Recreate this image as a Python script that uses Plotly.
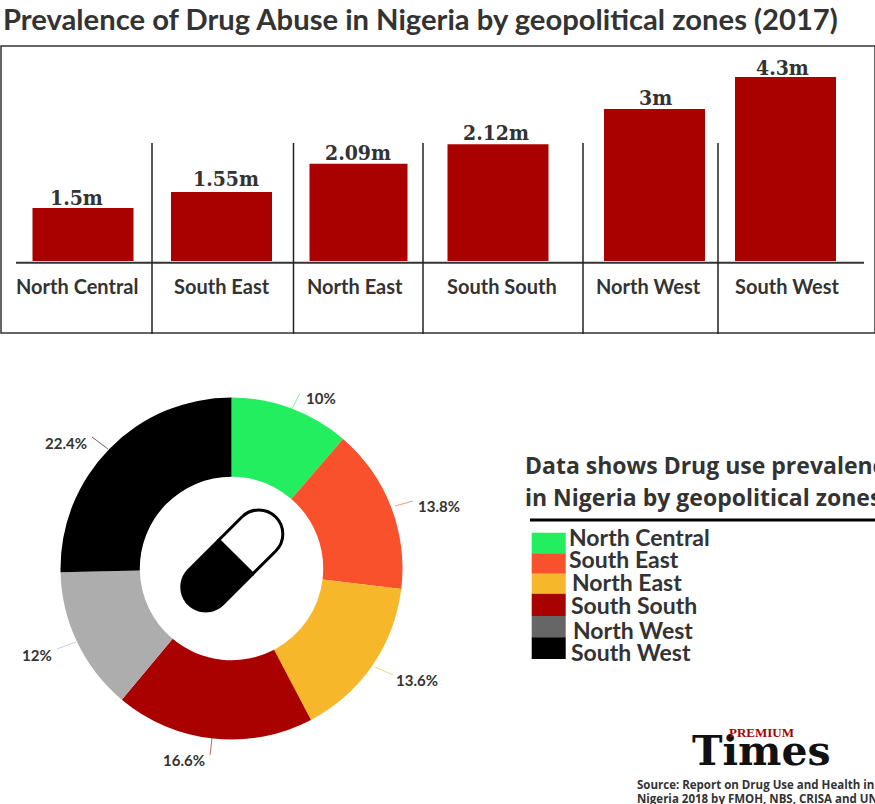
import plotly.graph_objects as go

# ---- data ----
zones = ["North Central", "South East", "North East", "South South", "North West", "South West"]
bar_labels = ["1.5m", "1.55m", "2.09m", "2.12m", "3m", "4.3m"]
# The reference's bars are not drawn to scale with their printed labels,
# so these are the drawn heights (scaled so 4.3m = 4.3).
bar_heights = [1.24, 1.61, 2.27, 2.73, 3.55, 4.3]
bar_slots = [83, 221.5, 358.5, 498, 654.5, 785.5]
bar_widths = [101, 101, 98, 101, 101, 101]
share_values = [10, 13.8, 13.6, 16.6, 12, 22.4]
share_labels = ["10%", "13.8%", "13.6%", "16.6%", "12%", "22.4%"]
pie_colors = ["#22EE5F", "#F9512B", "#F6B82A", "#A90000", "#ADADAD", "#000000"]
legend_colors = ["#22EE5F", "#F9512B", "#F6B82A", "#A90000", "#666666", "#000000"]

W, H = 875, 804
INK = "#333333"
SANS = "Lato"


def fx(x):
    return x / W


def fy(y):
    return 1 - y / H


def text(s, x, y, size, color=INK, family=SANS, bold=True, anchor="center"):
    return dict(text=f"<b>{s}</b>" if bold else s, x=fx(x), y=fy(y), xref="paper", yref="paper",
                xanchor=anchor, yanchor="middle", showarrow=False,
                font=dict(family=family, size=size, color=color))


def seg(x0, y0, x1, y1, color=INK, width=1.5, opacity=1):
    return dict(type="line", xref="paper", yref="paper", x0=fx(x0), y0=fy(y0), x1=fx(x1), y1=fy(y1),
                line=dict(color=color, width=width), layer="above", opacity=opacity)


fig = go.Figure()

# bar chart, on an axis that spans the page width
unit = 4.3 / 184
fig.add_trace(go.Bar(x=bar_slots, y=bar_heights, width=bar_widths, marker=dict(color="#A90000", line_width=0),
                     showlegend=False, hoverinfo="skip"))
fig.update_xaxes(domain=[0, 1], range=[0, W], visible=False, fixedrange=True)
fig.update_yaxes(domain=[fy(333), fy(46)], range=[-72 * unit, 215 * unit], visible=False, fixedrange=True)

# doughnut
cx, cy, R = 231.5, 568.5, 171
fig.add_trace(go.Pie(values=share_values, labels=zones, sort=False, direction="clockwise", rotation=0,
                     hole=91.7 / R, textinfo="none", showlegend=False, hoverinfo="skip",
                     marker=dict(colors=pie_colors, line_width=0),
                     domain=dict(x=[fx(cx - R), fx(cx + R)], y=[fy(cy + R), fy(cy - R)])))

ann = [text("Prevalence of Drug Abuse in Nigeria by geopolitical zones (2017)", 1, 19, 29.2, anchor="left")]

# bar value and zone labels
for s, x, y in zip(bar_labels, [76, 226, 357.5, 495.5, 655, 782], [198, 179, 152, 132, 97, 67]):
    ann.append(text(s, x, y, 21, family="DejaVu Serif Condensed"))
for s, x in zip(zones, [76.5, 222, 355, 501.5, 648, 787]):
    ann.append(text(s, x, 286, 20))

# doughnut labels and leaders
label_xy = [(321, 398), (439, 506), (417, 680), (184, 760), (37, 655), (66, 443)]
leaders = [(292, 409, 300, 393), (395, 506, 413, 501), (375, 667, 393, 675),
           (212, 738, 210, 755), (76, 642, 57, 649), (108, 449, 92, 437)]
for s, (x, y) in zip(share_labels, label_xy):
    ann.append(text(s, x, y, 15))

shapes = [dict(type="rect", xref="paper", yref="paper", x0=fx(1), x1=fx(875), y0=fy(333), y1=fy(46),
               line=dict(color=INK, width=1.5), layer="above"),
          seg(16, 262.7, 864, 262.7, width=2)]
for x in [152, 293.5, 423, 583, 718]:
    shapes.append(seg(x, 143, x, 334, color="#222222"))
for (x0, y0, x1, y1), c in zip(leaders, pie_colors):
    shapes.append(seg(x0, y0, x1, y1, color=c, width=1, opacity=0.6))

# legend block
ann.append(text("Data shows Drug use prevalence", 523, 465, 23, family="Open Sans", anchor="left"))
ann.append(text("in Nigeria by geopolitical zones", 523, 497, 23, family="Open Sans", anchor="left"))
shapes.append(seg(530, 520, 875, 520, color="#000000", width=3))
edges = [532.7, 553.3, 573.7, 593.7, 616, 637.3, 659]
for i, c in enumerate(legend_colors):
    shapes.append(dict(type="rect", xref="paper", yref="paper", x0=fx(531.7), x1=fx(565.7),
                       y0=fy(edges[i + 1]), y1=fy(edges[i]), fillcolor=c, line_width=0, layer="above"))
for s, x, y in zip(zones, [567, 567, 570, 569, 570.7, 569], [537, 559, 581.7, 605, 630, 652]):
    ann.append(text(s, x, y, 23, anchor="left"))


# capsule icon in the doughnut hole
def pt(u, v):
    """Point along the capsule axis (u toward the upper right) and across it (v toward the lower right)."""
    c = 0.7071
    return (232.3 + c * (u + v), 560.5 + c * (-u + v))


def P(u, v):
    x, y = pt(u, v)
    return f"{fx(x):.5f},{fy(y):.5f}"


def half(sign, r, half_len, split=5):
    k = 0.5523 * r
    e = sign * half_len
    d = sign * r
    return (f"M{P(split, r)} L{P(e, r)} C{P(e + sign * k, r)} {P(e + d, k)} {P(e + d, 0)} "
            f"C{P(e + d, -k)} {P(e + sign * k, -r)} {P(e, -r)} L{P(split, -r)} Z")


shapes.append(dict(type="path", xref="paper", yref="paper", path=half(1, 24, 37.5), fillcolor="#FFFFFF",
                   line=dict(color="#000000", width=3), layer="above"))
shapes.append(dict(type="path", xref="paper", yref="paper", path=half(-1, 25.5, 37.5), fillcolor="#000000",
                   line_width=0, layer="above"))

# masthead and source
ann.append(text("Times", 761, 751, 41, color="#111111", family="DejaVu Serif"))
ann.append(text("PREMIUM", 761.5, 732, 13, color="#A90000", family="Liberation Serif"))
ann.append(text("Source: Report on Drug Use and Health in", 635, 784, 11.5, family="Open Sans", anchor="left"))
ann.append(text("Nigeria 2018 by FMOH, NBS, CRISA and UNODC", 635, 798, 11.5, family="Open Sans", anchor="left"))

fig.update_layout(width=W, height=H, margin=dict(l=0, r=0, t=0, b=0, autoexpand=False), paper_bgcolor="#FFFFFF",
                  plot_bgcolor="rgba(0,0,0,0)", annotations=ann, shapes=shapes, showlegend=False)
fig.write_html("out.html", config=dict(displayModeBar=False),
               post_script="document.body.style.margin='0';")
